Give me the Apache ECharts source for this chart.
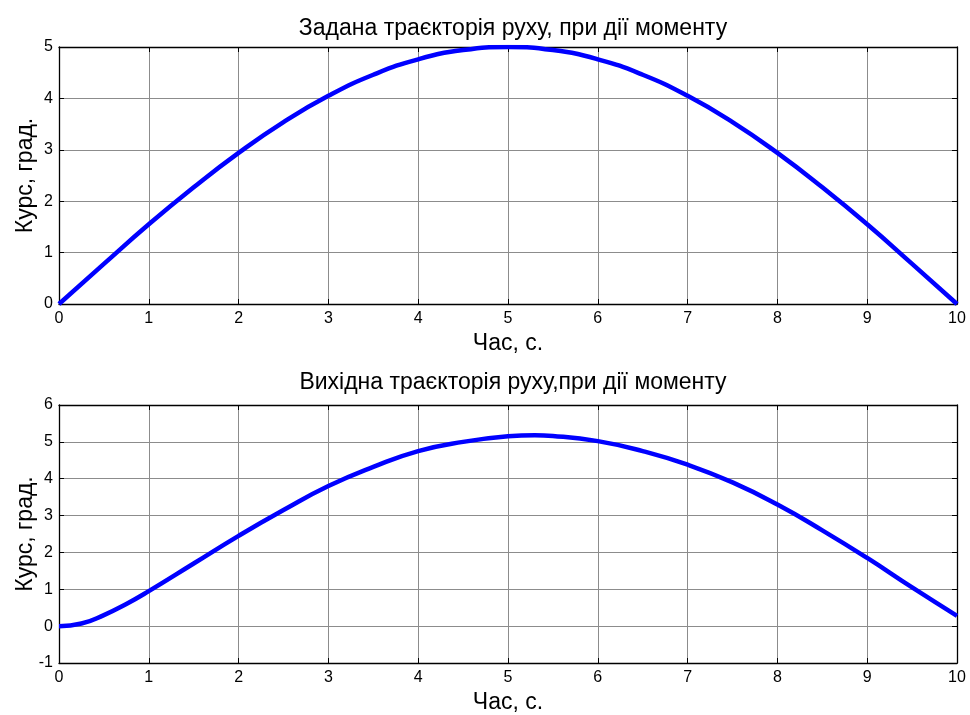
<!DOCTYPE html>
<html>
<head>
<meta charset="utf-8">
<script src="https://cdn.jsdelivr.net/npm/echarts@6/dist/echarts.min.js"></script>
<style>
  html, body { margin: 0; padding: 0; background: #fff; }
  #chart { width: 970px; height: 715px; }
</style>
</head>
<body>
<div id="chart"></div>
<script>
  // час, с
  var timeTop = [0, 0.5, 1, 1.5, 2, 2.5, 3, 3.5, 4, 4.5, 5, 5.5, 6, 6.5, 7, 7.5, 8, 8.5, 9, 9.5, 10];
  // задана траєкторія
  var courseTop = [0, 0.78, 1.55, 2.27, 2.94, 3.54, 4.05, 4.46, 4.76, 4.94, 5.0, 4.94, 4.76, 4.46, 4.05, 3.54, 2.94, 2.27, 1.55, 0.78, 0];

  var timeBottom = [0, 0.25, 0.5, 0.75, 1, 1.5, 2, 2.5, 3, 3.5, 4, 4.5, 5, 5.3, 5.5, 6, 6.5, 7, 7.5, 8, 8.5, 9, 9.5, 10];
  // вихідна траєкторія
  var courseBottom = [0, 0.07, 0.3, 0.6, 0.95, 1.7, 2.45, 3.15, 3.8, 4.32, 4.75, 5.0, 5.15, 5.18, 5.16, 5.02, 4.75, 4.38, 3.9, 3.3, 2.6, 1.85, 1.05, 0.28];

  var titles = ['Задана траєкторія руху, при дії моменту', 'Вихідна траєкторія руху,при дії моменту'];
  var xName = 'Час, с.';
  var yName = 'Курс, град.';

  function pairs(xs, ys) {
    var out = [];
    for (var i = 0; i < xs.length; i++) out.push([xs[i], ys[i]]);
    return out;
  }

  var font = 'Liberation Sans, Arial, sans-serif';
  var gridLine = { show: true, lineStyle: { color: '#8c8c8c', width: 1 } };
  var axisLine = { show: true, onZero: false, lineStyle: { color: '#000', width: 1.3 } };
  var tickIn = { show: true, inside: true, length: 5, lineStyle: { color: '#000' } };
  var label = { color: '#000', fontSize: 16, fontFamily: font };
  var nameStyle = { color: '#000', fontSize: 23, fontFamily: font };

  function mainX(gi) {
    return {
      type: 'value', gridIndex: gi, min: 0, max: 10, interval: 1,
      name: xName, nameLocation: 'middle', nameGap: 28, nameTextStyle: nameStyle,
      nameMoveOverlap: false,
      axisLine: axisLine, axisTick: tickIn, splitLine: gridLine,
      axisLabel: Object.assign({ margin: 7 }, label)
    };
  }
  function boxX(gi) {
    return {
      type: 'value', gridIndex: gi, position: 'top', min: 0, max: 10, interval: 1,
      axisLine: axisLine, axisTick: tickIn, axisLabel: { show: false }, splitLine: { show: false }
    };
  }
  function mainY(gi, min, max) {
    return {
      type: 'value', gridIndex: gi, min: min, max: max, interval: 1,
      name: yName, nameLocation: 'middle', nameGap: 22, nameTextStyle: nameStyle,
      nameMoveOverlap: false,
      axisLine: axisLine, axisTick: tickIn, splitLine: gridLine,
      axisLabel: Object.assign({ margin: 6 }, label)
    };
  }
  function boxY(gi, min, max) {
    return {
      type: 'value', gridIndex: gi, position: 'right', min: min, max: max, interval: 1,
      axisLine: axisLine, axisTick: tickIn, axisLabel: { show: false }, splitLine: { show: false }
    };
  }

  var chart = echarts.init(document.getElementById('chart'));
  chart.setOption({
    backgroundColor: '#fff',
    animation: false,
    title: [
      { text: titles[0], left: 508, top: 12, textAlign: 'center',
        textStyle: { color: '#000', fontSize: 23, fontWeight: 'normal', fontFamily: font } },
      { text: titles[1], left: 508, top: 366, textAlign: 'center',
        textStyle: { color: '#000', fontSize: 23, fontWeight: 'normal', fontFamily: font } }
    ],
    grid: [
      { left: 59, right: 13, top: 47, height: 257, outerBoundsMode: 'none', containLabel: false },
      { left: 59, right: 13, top: 405, height: 258, outerBoundsMode: 'none', containLabel: false }
    ],
    xAxis: [mainX(0), boxX(0), mainX(1), boxX(1)],
    yAxis: [mainY(0, 0, 5), boxY(0, 0, 5), mainY(1, -1, 6), boxY(1, -1, 6)],
    series: [
      {
        type: 'line', xAxisIndex: 0, yAxisIndex: 0, smooth: true, symbol: 'none',
        lineStyle: { color: '#0000ff', width: 4.5 }, data: pairs(timeTop, courseTop)
      },
      {
        type: 'line', xAxisIndex: 2, yAxisIndex: 2, smooth: true, symbol: 'none',
        lineStyle: { color: '#0000ff', width: 4.5 }, data: pairs(timeBottom, courseBottom)
      }
    ]
  });
</script>
</body>
</html>
